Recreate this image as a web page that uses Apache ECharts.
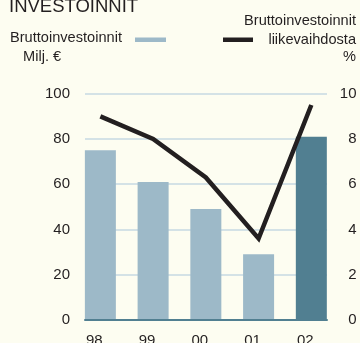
<!DOCTYPE html>
<html>
<head>
<meta charset="utf-8">
<script src="https://cdn.jsdelivr.net/npm/echarts@6/dist/echarts.min.js"></script>
<style>
  html, body { margin: 0; padding: 0; background: #fdfdf1; }
  #chart { width: 360px; height: 343px; }
</style>
</head>
<body>
<div id="chart"></div>
<script>
// Years and values
const years = ['98', '99', '00', '01', '02'];
const investments = [75, 61, 49, 29, 81];          // Milj. €
const shareOfRevenue = [9.0, 8.0, 6.3, 3.6, 9.5];  // % of revenue
const leftTicks = [0, 20, 40, 60, 80, 100];
const rightTicks = [0, 2, 4, 6, 8, 10];

const FONT = '"Liberation Sans", sans-serif';
const TEXT = '#231f20';
const BAR_LIGHT = '#9db9c8';
const BAR_DARK = '#517f91';

const chart = echarts.init(document.getElementById('chart'), null, { renderer: 'canvas' });

const plotTop = 93.7, plotBottom = 23;

chart.setOption({
  backgroundColor: '#fdfdf1',
  animation: false,
  textStyle: { fontFamily: FONT, color: TEXT },
  grid: [
    // frame for gridlines and baseline
    { left: 85, right: 33, top: plotTop, bottom: plotBottom, containLabel: false, outerBoundsMode: 'none' },
    // grid holding the bars and the line
    { left: 74, right: 22.3, top: plotTop, bottom: plotBottom, containLabel: false, outerBoundsMode: 'none' }
  ],
  xAxis: [
    {
      type: 'category', gridIndex: 0, data: years,
      axisLine: { show: true, lineStyle: { color: BAR_DARK, width: 2 } },
      axisTick: { show: false }, axisLabel: { show: false }, z: 5
    },
    {
      type: 'category', gridIndex: 1, data: years,
      axisLine: { show: false }, axisTick: { show: false },
      axisLabel: {
        margin: 13.5, fontSize: 15, color: TEXT, fontFamily: FONT,
        padding: [0, 12, 0, 0]
      }
    }
  ],
  yAxis: [
    {
      type: 'value', gridIndex: 0, position: 'left',
      min: leftTicks[0], max: leftTicks[leftTicks.length - 1], interval: 20,
      axisLine: { show: false }, axisTick: { show: false },
      axisLabel: { margin: 15, fontSize: 15, color: TEXT, fontFamily: FONT },
      splitLine: { show: true, lineStyle: { color: '#c6d8e2', width: 1.5 } }
    },
    {
      type: 'value', gridIndex: 0, position: 'right',
      min: rightTicks[0], max: rightTicks[rightTicks.length - 1], interval: 2,
      axisLine: { show: false }, axisTick: { show: false },
      axisLabel: { margin: 29.5, align: 'right', fontSize: 15, color: TEXT, fontFamily: FONT },
      splitLine: { show: false }
    },
    {
      type: 'value', gridIndex: 1, min: 0, max: 100, show: false
    },
    {
      type: 'value', gridIndex: 1, min: 0, max: 10, show: false
    }
  ],
  series: [
    {
      name: 'Bruttoinvestoinnit',
      type: 'bar', xAxisIndex: 1, yAxisIndex: 2,
      barWidth: 31,
      data: investments.map((v, i) => ({
        value: v,
        itemStyle: { color: i === investments.length - 1 ? BAR_DARK : BAR_LIGHT }
      })),
      z: 2
    },
    {
      name: 'Bruttoinvestoinnit liikevaihdosta',
      type: 'line', xAxisIndex: 1, yAxisIndex: 3,
      data: shareOfRevenue,
      symbol: 'none',
      lineStyle: { color: TEXT, width: 4.5, join: 'miter' },
      z: 6
    }
  ],
  graphic: [
    { type: 'text', left: 9, top: -3,
      style: { text: 'INVESTOINNIT', font: '18.5px ' + FONT, fill: TEXT } },
    { type: 'text', left: 10, top: 30.5,
      style: { text: 'Bruttoinvestoinnit', font: '14.6px ' + FONT, fill: TEXT } },
    { type: 'text', left: 23, top: 49.5,
      style: { text: 'Milj. €', font: '14.6px ' + FONT, fill: TEXT } },
    { type: 'rect', shape: { x: 135, y: 37.5, width: 31, height: 4.5 },
      style: { fill: BAR_LIGHT } },
    { type: 'text', right: 4, top: 13.3,
      style: { text: 'Bruttoinvestoinnit', font: '14.6px ' + FONT, fill: TEXT, align: 'right' } },
    { type: 'text', right: 4, top: 32.5,
      style: { text: 'liikevaihdosta', font: '14.6px ' + FONT, fill: TEXT, align: 'right' } },
    { type: 'text', right: 4, top: 49.5,
      style: { text: '%', font: '14.6px ' + FONT, fill: TEXT, align: 'right' } },
    { type: 'rect', shape: { x: 223, y: 37.5, width: 30, height: 4.5 },
      style: { fill: TEXT } }
  ]
});
</script>
</body>
</html>
